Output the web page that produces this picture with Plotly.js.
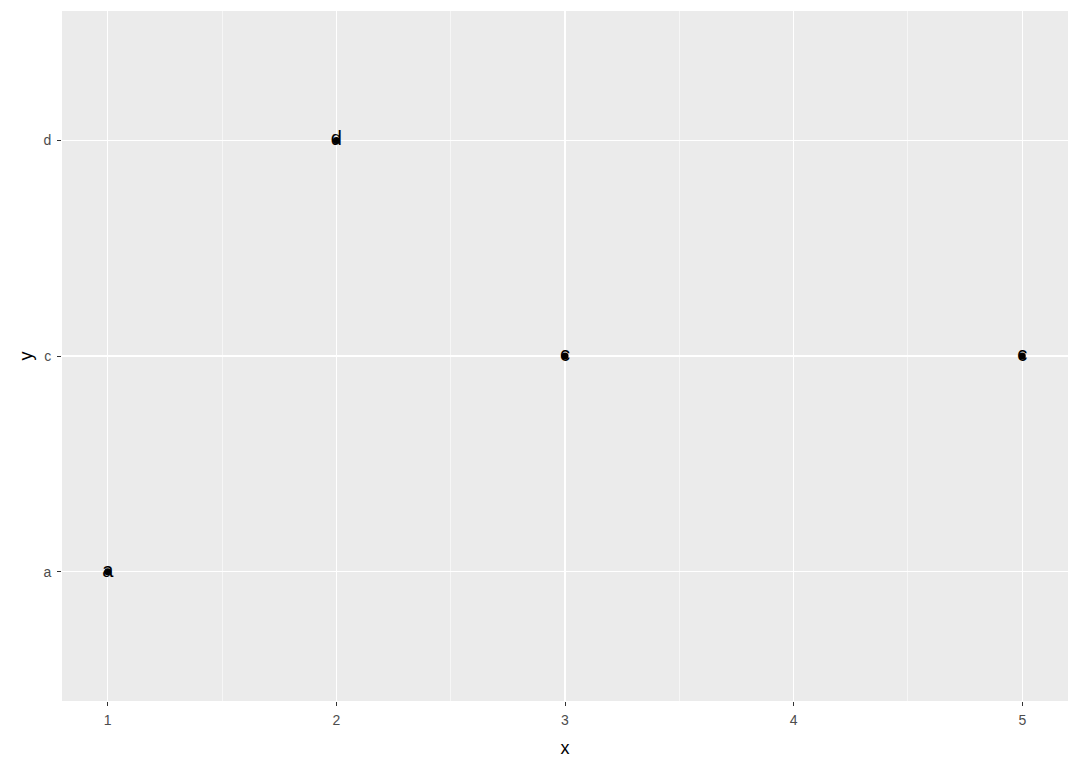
<!DOCTYPE html>
<html>
<head>
<meta charset="utf-8">
<script src="https://cdn.plot.ly/plotly-3.0.1.min.js"></script>
<style>
  html, body { margin: 0; padding: 0; background: #fff; }
  #chart { width: 1080px; height: 771px; }
</style>
</head>
<body>
<div id="chart"></div>
<script>
    // --- Data ---
    const xValues = [1, 2, 3, 5];
    const yValues = ['a', 'd', 'c', 'c'];
    const labels = ['a', 'd', 'c', 'c'];
    const yCategories = ['a', 'c', 'd'];
    const xTicks = [1, 2, 3, 4, 5];

    const font = 'Liberation Sans, Arial, sans-serif';

    const trace = {
        x: xValues,
        y: yValues,
        text: labels,
        mode: 'markers+text',
        type: 'scatter',
        textposition: 'middle center',
        textfont: { family: font, size: 20, color: '#000' },
        marker: { color: '#000', size: 7 },
        hoverinfo: 'x+y',
        cliponaxis: false
    };

    const layout = {
        width: 1080,
        height: 771,
        margin: { l: 62, r: 12, t: 11, b: 70 },
        paper_bgcolor: '#fff',
        plot_bgcolor: '#ebebeb',
        showlegend: false,
        font: { family: font, color: '#4d4d4d' },
        xaxis: {
            range: [0.8, 5.2],
            tickvals: xTicks,
            ticktext: xTicks.map(String),
            ticks: 'outside',
            ticklen: 4,
            tickwidth: 1,
            tickcolor: '#333',
            ticklabelstandoff: 2,
            tickfont: { size: 14, color: '#4d4d4d' },
            showgrid: true,
            gridcolor: '#fff',
            gridwidth: 1.1,
            zeroline: false,
            showline: false,
            minor: { tickvals: [1.5, 2.5, 3.5, 4.5], showgrid: true, gridcolor: '#fff', gridwidth: 0.55, ticks: '' },
            title: { text: 'x', font: { size: 18, color: '#000' }, standoff: 14 }
        },
        yaxis: {
            type: 'category',
            categoryorder: 'array',
            categoryarray: yCategories,
            range: [-0.6, 2.6],
            ticks: 'outside',
            ticklen: 4,
            tickwidth: 1,
            tickcolor: '#333',
            ticklabelstandoff: 3,
            tickfont: { size: 14, color: '#4d4d4d' },
            showgrid: true,
            gridcolor: '#fff',
            gridwidth: 1.1,
            zeroline: false,
            showline: false,
            title: { text: 'y', font: { size: 18, color: '#000' }, standoff: 6 }
        }
    };

    Plotly.newPlot('chart', [trace], layout, { displayModeBar: false, staticPlot: true });
</script>
</body>
</html>
